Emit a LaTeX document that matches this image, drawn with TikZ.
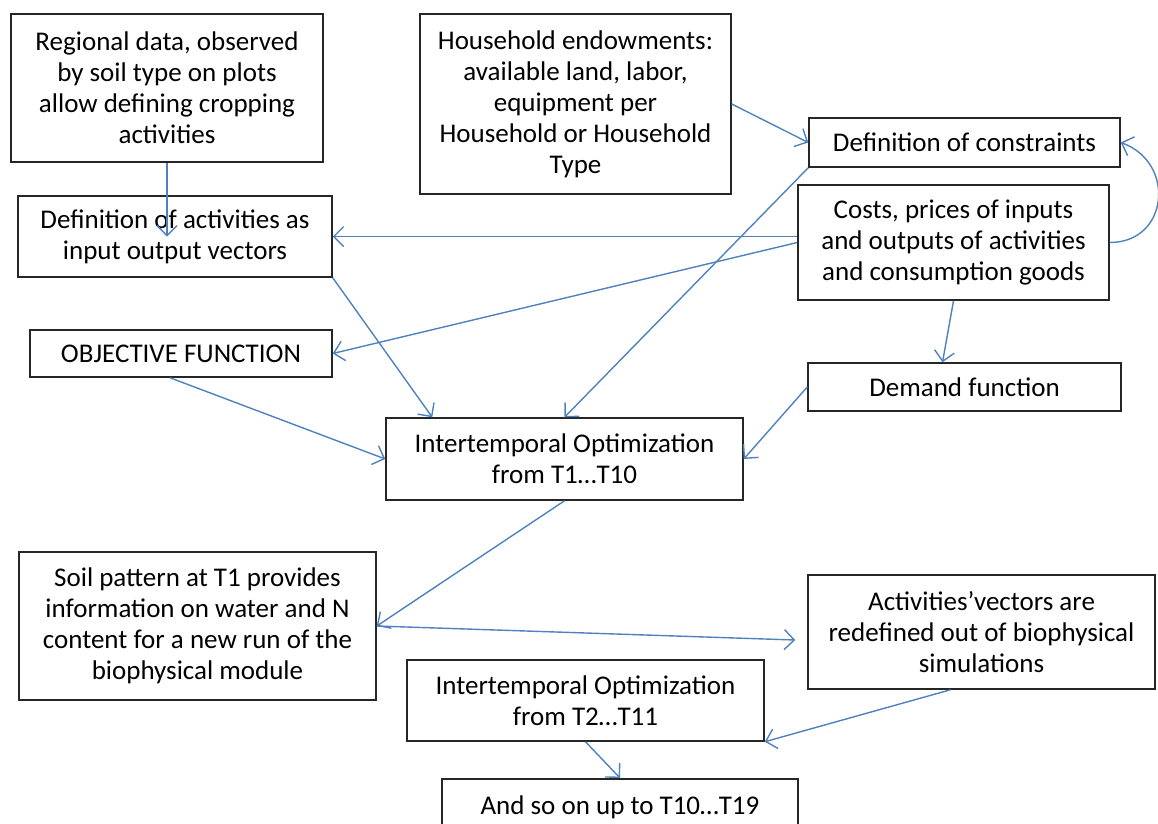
\documentclass[tikz,border=0pt]{standalone}
\usepackage{fontspec}
\setmainfont{Carlito}
\usetikzlibrary{arrows.meta,calc}
\definecolor{linkblue}{RGB}{79,129,189}
\tikzset{
  block/.style={ % a box of the flow chart
    draw=black!85, rectangle, line width=1.5pt,
    align=center, inner sep=0pt, text=black,
    font=\fontsize{27}{31}\selectfont
  },
  link/.style={ % a blue connector between two boxes
    draw=linkblue, line width=1.4pt,
    -{Straight Barb[length=10pt,width=20pt]}
  }
}
\begin{document}
\begin{tikzpicture}[x=1pt,y=-1pt]
  \useasboundingbox (0,0) rectangle (1158,823);
  \clip (0,0) rectangle (1158,823);

  \node[block, minimum width=312pt, minimum height=148pt] (regional) at (167,88)
    {Regional data, observed\\by soil type on plots\\allow defining cropping\\activities};
  \node[block, minimum width=314pt, minimum height=81pt] (def_act) at (175,236.5)
    {Definition of activities as\\input output vectors};
  \node[block, minimum width=311pt, minimum height=180pt] (household) at (575.5,104)
    {Household endowments:\\available land, labor,\\equipment per\\Household or Household\\Type};
  \node[block, minimum width=311pt, minimum height=49pt] (constr) at (964.5,142.5)
    {Definition of constraints};
  \node[block, minimum width=311pt, minimum height=115pt] (costs) at (953.5,242.5)
    {Costs, prices of inputs\\and outputs of activities\\and consumption goods};
  \node[block, minimum width=302pt, minimum height=47pt] (objective) at (181,353.5)
    {OBJECTIVE FUNCTION};
  \node[block, minimum width=313pt, minimum height=48pt] (demand) at (964.5,387)
    {Demand function};
  \node[block, minimum width=357pt, minimum height=82pt] (int_one) at (564.5,459)
    {Intertemporal Optimization\\from T1…T10};
  \node[block, minimum width=357pt, minimum height=148pt] (soil) at (197.5,626)
    {Soil pattern at T1 provides\\information on water and N\\content for a new run of the\\biophysical module};
  \node[block, minimum width=347pt, minimum height=114pt] (activities) at (981.5,632)
    {Activities’vectors are\\redefined out of biophysical\\simulations};
  \node[block, minimum width=357pt, minimum height=81pt] (int_two) at (585.5,700.5)
    {Intertemporal Optimization\\from T2…T11};
  \node[block, minimum width=356pt, anchor=north, inner ysep=17pt, text depth=30pt] (and_so) at (620,778)
    {And so on up to T10…T19};

  \draw[link] (regional.south) -- (regional.south |- def_act.center);
  \draw[link] (household.east) -- (constr.west);
  \draw[link] (costs.west |- def_act.east) -- (def_act.east);
  \draw[link] (costs.west) -- (objective.east);
  \draw[link] (costs.south) -- ([xshift=-22pt]demand.north);
  \draw[link] (costs.east) to[out=0,in=-20,looseness=1.5] (constr.east);
  \draw[link] (constr.south west) -- (int_one.north);
  \draw[link] (def_act.south east) -- ($(int_one.north west)+(47,0)$);
  \draw[link] ([xshift=-11pt]objective.south) -- (int_one.west);
  \draw[link] (demand.west) -- (int_one.east);
  \draw[link] (int_one.south) -- (soil.east);
  \draw[link] (soil.east) -- ($(activities.west)+(-12,8)$);
  \draw[link] ([xshift=-31pt]activities.south) -- (int_two.south east);
  \draw[link] (int_two.south) -- (and_so.north);
\end{tikzpicture}
\end{document}
